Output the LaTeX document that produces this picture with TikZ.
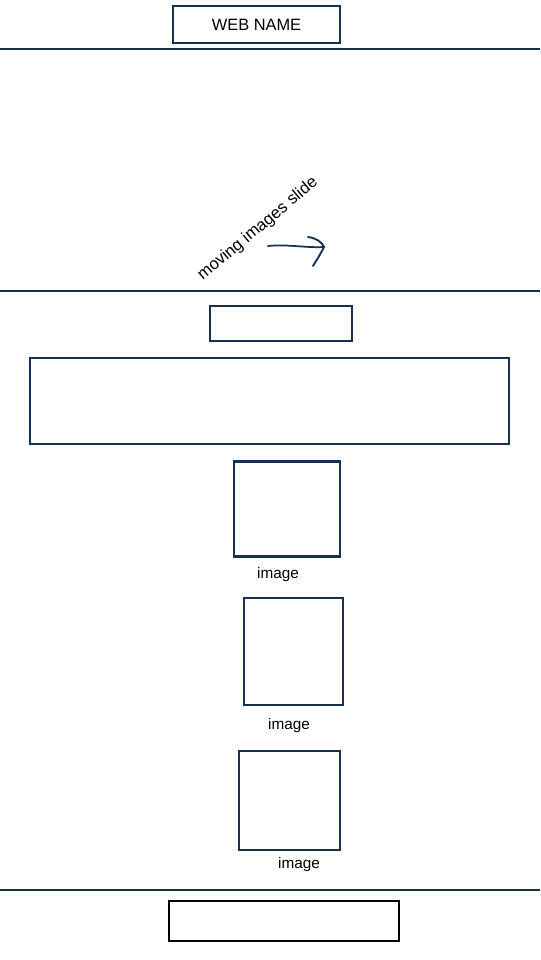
\documentclass[tikz,border=0pt]{standalone}
\usepackage{fontspec}
\setmainfont{Liberation Sans}
\definecolor{navy}{HTML}{15314D}
\begin{document}
\begin{tikzpicture}[x=0.75pt,y=-0.75pt,
  frame/.style={draw=navy,line width=1.8pt},
  sep/.style={draw=navy,line width=2pt},
  lbl/.style={font=\fontsize{11.5}{13}\selectfont,text=black}]
\useasboundingbox[fill=white] (0,0) rectangle (540,960);
% header
\node[frame,minimum width=125pt,minimum height=27.5pt,inner sep=0pt,font=\fontsize{12.3}{14}\selectfont] (web) at (256.5,24.5) {WEB NAME};
\coordinate (l1a) at (0,49); \coordinate (l1b) at (540,49);
\draw[sep] (l1a) -- (l1b);
% slider
\node[font=\fontsize{12.5}{14}\selectfont,rotate=40] (mov) at (258,229) {moving images slide};
\coordinate (ar1) at (268,246); \coordinate (ar2) at (324,247);
\draw[navy,line width=1.3pt,line cap=round] (ar1) .. controls (288,244) and (305,248) .. (ar2);
\coordinate (ah1) at (308,237); \coordinate (ah2) at (313,266);
\draw[navy,line width=1.4pt,line cap=round,line join=round] (ah1) .. controls (316,238) and (322,242) .. (ar2) .. controls (320,255) and (316,261) .. (ah2);
\coordinate (l2a) at (0,291); \coordinate (l2b) at (540,291);
\draw[sep] (l2a) -- (l2b);
% content
\node[frame,minimum width=106.5pt,minimum height=26pt,inner sep=0pt] (title) at (281,323.5) {};
\node[frame,minimum width=359pt,minimum height=64.5pt,inner sep=0pt] (big) at (269.5,401) {};
\node[frame,minimum width=79.5pt,minimum height=71pt,inner sep=0pt] (img1) at (287,509) {};
\node[lbl] (t1) at (278,575) {image};
\node[frame,minimum width=74pt,minimum height=80pt,inner sep=0pt] (img2) at (293.5,651.5) {};
\node[lbl] (t2) at (289,726) {image};
\node[frame,minimum width=75.5pt,minimum height=74pt,inner sep=0pt] (img3) at (289.5,800.5) {};
\node[lbl] (t3) at (299,865) {image};
% footer
\coordinate (l3a) at (0,890); \coordinate (l3b) at (540,890);
\draw[sep] (l3a) -- (l3b);
\node[draw=black,line width=2pt,minimum width=172.5pt,minimum height=30pt,inner sep=0pt] (foot) at (284,921) {};
\end{tikzpicture}
\end{document}
